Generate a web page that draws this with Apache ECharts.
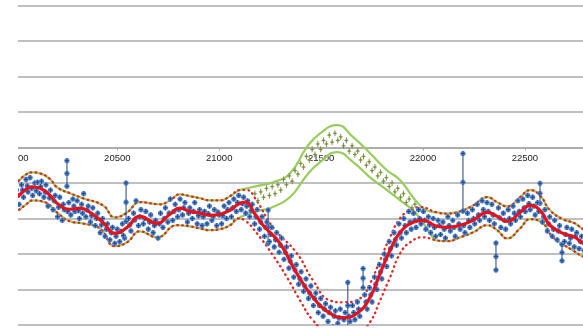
<!DOCTYPE html>
<html>
<head>
<meta charset="utf-8">
<script src="https://cdn.jsdelivr.net/npm/echarts@6/dist/echarts.min.js"></script>
<style>
  html, body { margin: 0; padding: 0; background: #fff; }
  #chart { width: 583px; height: 328px; }
</style>
</head>
<body>
<div id="chart"></div>
<script>
// x tick range
const xMin = 20000
const xMax = 22785
const xStep = 500

// red fit (blue data model)
const redFit = [
  [19974, -14.9], [20013, -13.7], [20047, -12.0], [20081, -11.1], [20121, -11.5], [20170, -13.5],
  [20204, -15.7], [20268, -17.4], [20317, -17.1], [20366, -18.3], [20430, -21.1], [20489, -24.2],
  [20548, -22.5], [20611, -19.4], [20695, -21.4], [20758, -18.8], [20807, -17.1], [20856, -18.0],
  [20906, -18.5], [20955, -19.1], [21004, -18.8], [21053, -17.7], [21092, -16.0], [21127, -15.4],
  [21176, -18.8], [21215, -21.9], [21298, -27.0], [21381, -35.5], [21460, -42.2], [21544, -46.7],
  [21608, -47.9], [21677, -46.7], [21740, -42.2], [21789, -35.5], [21838, -29.0], [21888, -23.9],
  [21951, -21.1], [22000, -20.5], [22069, -22.2], [22118, -22.5], [22182, -21.9], [22246, -20.5],
  [22315, -18.3], [22364, -19.4], [22413, -20.8], [22476, -18.3], [22525, -16.3], [22574, -17.7],
  [22623, -21.9], [22687, -24.2], [22746, -25.3], [22785, -27.0], [22819, -27.6]
]

// confidence bands, split into the shared outer parts and the middle parts
const upperLeft = [
  [19974, -10.9], [20013, -9.5], [20047, -7.8], [20081, -7.0], [20121, -7.3], [20170, -8.9],
  [20204, -11.2], [20268, -12.9], [20331, -14.3], [20430, -16.3], [20489, -19.7], [20548, -18.3],
  [20611, -15.4], [20709, -16.0], [20758, -14.9], [20807, -13.2], [20856, -13.7], [20906, -14.3],
  [20955, -14.9], [21004, -14.9], [21053, -13.7], [21102, -12.0]
]
const upperRight = [
  [22069, -18.3], [22118, -18.6], [22182, -18.0], [22246, -16.3], [22315, -14.0], [22364, -15.4],
  [22413, -16.6], [22476, -14.0], [22525, -12.0], [22574, -13.5], [22623, -17.7], [22687, -20.2],
  [22746, -21.4], [22785, -23.0], [22819, -23.6]
]
const lowerLeft = [
  [19974, -18.8], [20013, -17.7], [20047, -16.3], [20086, -14.9], [20145, -15.4], [20204, -18.3],
  [20268, -20.8], [20331, -21.4], [20415, -22.8], [20489, -27.8], [20548, -26.7], [20611, -23.6],
  [20695, -25.3], [20792, -21.9], [20856, -22.2], [20906, -22.8], [20955, -23.3], [21004, -23.0],
  [21053, -21.9], [21092, -20.0]
]
const lowerRight = [
  [22069, -26.2], [22118, -26.4], [22182, -25.3], [22246, -23.9], [22315, -21.9], [22364, -23.3],
  [22413, -25.6], [22476, -22.8], [22525, -20.2], [22589, -21.4], [22638, -25.3], [22736, -29.0],
  [22785, -30.7], [22819, -31.2]
]
const redUpperDip = [
  [21136, -12.0], [21176, -14.3], [21264, -22.5], [21381, -29.8], [21460, -37.4], [21544, -43.1],
  [21608, -43.6], [21691, -42.5], [21740, -38.3], [21789, -31.8], [21838, -25.3], [21888, -19.9],
  [21937, -17.7], [21986, -16.8]
]
const redLowerDip = [
  [21127, -20.6], [21185, -24.2], [21264, -30.4], [21333, -36.6], [21397, -43.1], [21460, -48.7],
  [21544, -52.9], [21608, -54.3], [21677, -52.9], [21740, -49.2], [21789, -43.1], [21838, -36.6],
  [21888, -29.8], [21937, -26.7], [22000, -25.3]
]
const greenUpperHump = [
  [21136, -11.5], [21185, -10.9], [21264, -9.8], [21347, -7.3], [21430, 0.1], [21495, 4.0],
  [21578, 6.3], [21657, 2.9], [21740, -1.6], [21823, -6.4], [21888, -9.2], [21951, -14.0],
  [22000, -17.1], [22035, -18.0]
]
const greenLowerHump = [
  [21151, -18.5], [21200, -17.7], [21249, -17.1], [21347, -14.0], [21430, -7.8], [21495, -4.1],
  [21578, -1.3], [21657, -4.1], [21740, -8.4], [21823, -12.0], [21888, -14.9], [21951, -17.7],
  [22000, -21.1], [22035, -24.2]
]

// blue measurements
const bluePts = [
  [20005, -12.0], [20018, -16.0], [20030, -10.5], [20040, -14.0], [20052, -9.0], [20062, -12.5],
  [20072, -8.5], [20085, -13.5], [20095, -10.0], [20108, -9.8], [20118, -13.0], [20128, -9.5],
  [20140, -14.0], [20150, -10.5], [20160, -16.5], [20172, -12.0], [20185, -17.5], [20195, -13.5],
  [20207, -19.5], [20218, -14.0], [20230, -20.5], [20240, -17.5], [20262, -15.5], [20272, -19.0],
  [20282, -14.5], [20292, -18.0], [20303, -15.0], [20314, -20.0], [20325, -16.0], [20335, -13.0],
  [20346, -19.5], [20357, -16.5], [20368, -21.0], [20380, -17.0], [20392, -22.0], [20404, -18.5],
  [20416, -24.0], [20428, -20.0], [20440, -25.0], [20452, -21.5], [20464, -26.0], [20476, -22.5],
  [20488, -27.0], [20500, -23.0], [20512, -26.5], [20525, -21.5], [20536, -25.5], [20555, -20.0],
  [20567, -23.5], [20580, -18.5], [20592, -15.0], [20604, -22.0], [20616, -17.5], [20628, -21.5],
  [20640, -18.0], [20652, -23.0], [20664, -19.0], [20676, -24.0], [20688, -20.5], [20700, -25.5],
  [20712, -18.5], [20724, -22.5], [20736, -17.0], [20748, -21.0], [20760, -14.5], [20772, -20.5],
  [20784, -16.0], [20796, -19.5], [20808, -14.5], [20820, -19.0], [20832, -15.5], [20844, -21.0],
  [20856, -17.0], [20868, -20.0], [20880, -15.5], [20892, -21.5], [20904, -17.5], [20916, -22.0],
  [20928, -18.0], [20940, -21.5], [20952, -16.5], [20964, -20.5], [20976, -17.5], [20988, -22.0],
  [21000, -19.0], [21012, -21.5], [21024, -16.5], [21036, -20.0], [21048, -15.5], [21060, -19.5],
  [21072, -14.5], [21084, -18.0], [21096, -13.5], [21108, -17.5], [21120, -14.0], [21130, -18.5],
  [21140, -15.0], [21150, -19.5], [21162, -16.0], [21174, -21.5], [21186, -17.5], [21198, -23.0],
  [21210, -19.5], [21222, -25.0], [21234, -21.0], [21246, -26.5], [21258, -22.5], [21270, -28.0],
  [21282, -24.0], [21294, -29.5], [21306, -25.5], [21318, -31.5], [21330, -28.0], [21342, -34.0],
  [21354, -30.5], [21366, -36.5], [21378, -33.0], [21390, -38.5], [21402, -35.0], [21414, -40.5],
  [21426, -37.0], [21438, -42.5], [21450, -39.0], [21462, -44.5], [21474, -41.0], [21486, -46.5],
  [21498, -42.5], [21510, -47.5], [21522, -44.0], [21534, -49.0], [21546, -45.0], [21558, -50.5],
  [21570, -46.0], [21582, -49.5], [21594, -45.5], [21606, -51.0], [21618, -46.5], [21642, -49.0],
  [21654, -44.5], [21666, -48.5], [21678, -43.5], [21690, -47.5], [21714, -41.5], [21726, -45.5],
  [21738, -39.5], [21750, -43.5], [21762, -36.5], [21774, -40.0], [21786, -33.0], [21798, -37.0],
  [21810, -30.0], [21822, -33.5], [21834, -26.5], [21846, -30.5], [21858, -24.0], [21870, -27.5],
  [21882, -21.5], [21894, -25.5], [21906, -20.0], [21918, -24.0], [21930, -18.0], [21942, -23.0],
  [21954, -18.5], [21966, -22.5], [21978, -17.5], [21990, -21.5], [22002, -18.0], [22014, -23.0],
  [22026, -19.5], [22038, -24.0], [22050, -20.0], [22062, -25.0], [22074, -20.5], [22086, -24.5],
  [22098, -21.0], [22110, -25.5], [22122, -19.5], [22134, -23.5], [22146, -20.5], [22158, -25.0],
  [22170, -19.0], [22182, -23.0], [22206, -24.0], [22218, -18.5], [22230, -22.5], [22242, -17.5],
  [22254, -21.5], [22266, -16.0], [22278, -20.5], [22290, -15.0], [22302, -19.5], [22314, -15.5],
  [22326, -20.5], [22338, -16.0], [22350, -21.5], [22370, -17.0], [22382, -22.5], [22394, -18.5],
  [22406, -23.0], [22418, -17.5], [22430, -21.5], [22442, -16.5], [22454, -20.5], [22466, -15.0],
  [22478, -19.5], [22490, -14.5], [22502, -18.0], [22514, -13.5], [22526, -17.5], [22538, -14.0],
  [22550, -19.0], [22562, -15.5], [22586, -21.0], [22598, -17.5], [22610, -23.5], [22622, -19.5],
  [22634, -25.0], [22646, -20.5], [22658, -26.0], [22670, -22.0], [22694, -26.5], [22706, -22.5],
  [22718, -27.0], [22730, -23.0], [22742, -28.0], [22754, -24.0], [22766, -28.5], [22778, -25.0],
  [22790, -29.0]
]
// extra blue points sitting near the fit, between the ones above
const bluePtsMid = [
  [20012, -13.5], [20035, -12.0], [20058, -10.8], [20080, -11.5], [20102, -12.2], [20124, -11.0],
  [20146, -12.5], [20168, -14.2], [20190, -15.0], [20212, -16.8], [20235, -16.0], [20257, -18.0],
  [20287, -16.5], [20309, -17.8], [20330, -18.5], [20352, -17.6], [20374, -19.2], [20398, -20.0],
  [20422, -21.8], [20446, -23.0], [20470, -24.0], [20494, -25.0], [20518, -23.6], [20530, -24.8],
  [20561, -21.8], [20586, -20.4], [20610, -19.5], [20634, -20.0], [20658, -21.0], [20682, -22.0],
  [20706, -21.5], [20730, -20.0], [20754, -18.5], [20778, -18.0], [20802, -17.5], [20826, -17.0],
  [20850, -18.5], [20874, -18.0], [20898, -19.2], [20922, -19.5], [20946, -18.6], [20970, -19.5],
  [20994, -18.2], [21018, -19.2], [21042, -17.5], [21066, -17.0], [21090, -15.5], [21114, -15.8],
  [21135, -16.5], [21156, -17.8], [21180, -19.5], [21204, -21.0], [21228, -22.5], [21252, -24.5],
  [21276, -26.0], [21300, -27.5], [21324, -29.5], [21348, -32.0], [21372, -34.5], [21396, -37.0],
  [21420, -39.0], [21444, -41.0], [21468, -42.5], [21492, -44.5], [21516, -45.5], [21540, -46.5],
  [21564, -47.5], [21588, -48.0], [21612, -48.5], [21636, -47.5], [21660, -46.5], [21684, -45.5],
  [21720, -43.5], [21744, -41.5], [21768, -38.5], [21792, -35.0], [21816, -31.5], [21840, -28.5],
  [21864, -26.0], [21888, -24.0], [21912, -22.0], [21936, -21.0], [21960, -20.5], [21984, -20.0],
  [22008, -20.5], [22032, -21.8], [22056, -22.5], [22080, -22.0], [22104, -23.0], [22128, -22.0],
  [22152, -22.5], [22176, -21.5], [22200, -22.0], [22224, -20.5], [22248, -20.0], [22272, -19.0],
  [22296, -17.5], [22320, -18.0], [22344, -19.0], [22376, -19.8], [22400, -20.5], [22424, -20.0],
  [22448, -18.5], [22472, -18.0], [22496, -17.0], [22520, -15.8], [22544, -16.5], [22568, -18.0],
  [22592, -19.5], [22616, -21.5], [22640, -23.0], [22664, -23.5], [22700, -24.5], [22724, -25.5],
  [22748, -25.0], [22772, -26.5]
]
// blue points with long error bars: [x, y, halfLength]
const blueErr = [
  [20253, -7.3, 3.6], [20543, -15.4, 5.4], [21240, -22.3, 4.7], [21631, -44.5, 6.5],
  [21706, -36.8, 2.7], [22196, -9.8, 8.1], [22358, -30.7, 3.8], [22574, -12.9, 2.8],
  [22682, -29.6, 2.3]
]

// green measurements (second model)
const greenPts = [
  [21175, -13.0], [21190, -15.0], [21204, -12.5], [21218, -14.0], [21232, -11.5], [21246, -13.5],
  [21260, -11.0], [21274, -13.0], [21288, -10.5], [21302, -12.0], [21316, -9.0], [21330, -10.5],
  [21344, -8.0], [21358, -9.5], [21372, -6.5], [21386, -7.5], [21400, -4.5], [21414, -5.5],
  [21428, -2.5], [21442, -3.5], [21456, -0.5], [21470, -2.0], [21484, 1.0], [21498, -0.5],
  [21512, 2.0], [21526, 1.0], [21540, 3.5], [21554, 1.5], [21568, 4.0], [21582, 2.0],
  [21596, 3.0], [21610, 0.5], [21624, 2.0], [21638, -1.0], [21652, 0.5], [21666, -2.0],
  [21680, -1.0], [21694, -3.5], [21708, -2.5], [21722, -5.0], [21736, -4.0], [21750, -6.5],
  [21764, -5.5], [21778, -8.0], [21792, -7.0], [21806, -9.5], [21820, -8.5], [21834, -11.0],
  [21848, -10.0], [21862, -12.5], [21876, -11.5], [21890, -14.0], [21904, -13.0], [21918, -15.5],
  [21932, -14.5], [21946, -17.0], [21960, -16.0]
]

const redUpper = [...upperLeft, ...redUpperDip, ...upperRight]
const redLower = [...lowerLeft, ...redLowerDip, ...lowerRight]
const greenUpper = [...upperLeft, ...greenUpperHump, ...upperRight]
const greenLower = [...lowerLeft, ...greenLowerHump, ...lowerRight]

const BLUE_FILL = '#5c90d8'
const BLUE_CROSS = '#24427c'

function markShapes(x, y) {
  return [
    { type: 'circle', shape: { cx: x, cy: y, r: 2.6 }, style: { fill: BLUE_FILL } },
    { type: 'line', shape: { x1: x - 2.2, y1: y, x2: x + 2.2, y2: y }, style: { stroke: BLUE_CROSS, lineWidth: 0.9 } },
    { type: 'line', shape: { x1: x, y1: y - 2.6, x2: x, y2: y + 2.6 }, style: { stroke: BLUE_CROSS, lineWidth: 0.9 } }
  ]
}

function renderBlue(params, api) {
  const p = api.coord([api.value(0), api.value(1)])
  return { type: 'group', children: markShapes(p[0], p[1]) }
}

function renderBlueErr(params, api) {
  const x = api.value(0), y = api.value(1), e = api.value(2)
  const hi = api.coord([x, y + e])
  const mid = api.coord([x, y])
  const lo = api.coord([x, y - e])
  const bar = { type: 'line', shape: { x1: hi[0], y1: hi[1], x2: lo[0], y2: lo[1] }, style: { stroke: BLUE_CROSS, lineWidth: 1 } }
  return { type: 'group', children: [bar].concat(markShapes(hi[0], hi[1]), markShapes(mid[0], mid[1]), markShapes(lo[0], lo[1])) }
}

function renderGreen(params, api) {
  const p = api.coord([api.value(0), api.value(1)])
  return {
    type: 'group',
    children: [
      { type: 'circle', shape: { cx: p[0], cy: p[1], r: 1.3 }, style: { fill: '#b3cc7a' } },
      { type: 'line', shape: { x1: p[0] - 2, y1: p[1], x2: p[0] + 2, y2: p[1] }, style: { stroke: '#71873a', lineWidth: 0.9 } },
      { type: 'line', shape: { x1: p[0], y1: p[1] - 3, x2: p[0], y2: p[1] + 3 }, style: { stroke: '#71873a', lineWidth: 0.9 } }
    ]
  }
}

const chart = echarts.init(document.getElementById('chart'), null, { renderer: 'canvas' })

const bandLine = (name, data, color, width, type, z) => ({
  name: name,
  type: 'line',
  data: data,
  smooth: true,
  showSymbol: false,
  symbol: 'none',
  silent: true,
  z: z,
  lineStyle: { color: color, width: width, type: type, cap: 'round' }
})

chart.setOption({
  backgroundColor: '#fff',
  animation: false,
  grid: { left: 15.4, right: 0, top: 5.5, bottom: 3, containLabel: false, outerBoundsMode: 'none' },
  xAxis: {
    type: 'value',
    min: xMin,
    max: xMax,
    interval: xStep,
    position: 'bottom',
    offset: -177.5,
    axisLine: { onZero: false, lineStyle: { color: '#a8a8a8', width: 1.5 } },
    axisTick: { show: true, length: 3, lineStyle: { color: '#a8a8a8' } },
    axisLabel: { color: '#222', fontSize: 9.5, fontFamily: 'Liberation Sans', margin: 6, showMaxLabel: false, formatter: v => String(v) },
    splitLine: { show: false }
  },
  yAxis: {
    type: 'value',
    min: -50,
    max: 40,
    interval: 10,
    axisLine: { show: false },
    axisTick: { show: false },
    axisLabel: { show: false },
    splitLine: { lineStyle: { color: '#aaaaaa', width: 1.5 } }
  },
  graphic: [
    { type: 'rect', left: 0, top: 0, shape: { width: 18, height: 328 }, style: { fill: '#fff' }, z: 100 }
  ],
  series: [
    bandLine('green upper', greenUpper, '#98cd5e', 2.2, 'solid', 2),
    bandLine('green lower', greenLower, '#98cd5e', 2.2, 'solid', 2),
    bandLine('red upper', redUpper, '#e2261f', 2.3, [0.6, 4.4], 3),
    bandLine('red lower', redLower, '#e2261f', 2.3, [0.6, 4.4], 3),
    { name: 'blue err', type: 'custom', renderItem: renderBlueErr, data: blueErr, clip: true, z: 4 },
    { name: 'blue', type: 'custom', renderItem: renderBlue, data: bluePts, clip: true, z: 4 },
    { name: 'blue mid', type: 'custom', renderItem: renderBlue, data: bluePtsMid, clip: true, z: 4 },
    { name: 'green', type: 'custom', renderItem: renderGreen, data: greenPts, clip: true, z: 5 },
    bandLine('red fit', redFit, '#e3121b', 3.2, 'solid', 6)
  ]
})
</script>
</body>
</html>
